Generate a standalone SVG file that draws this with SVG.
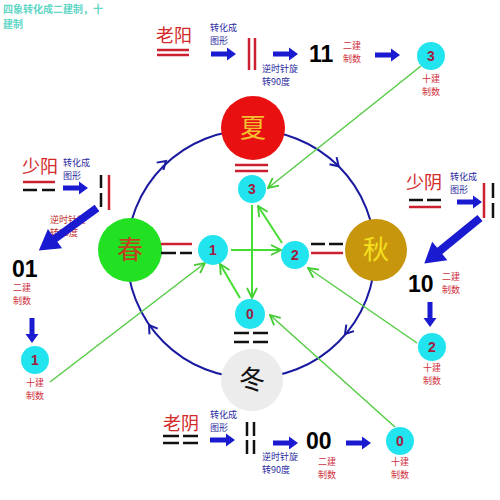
<svg xmlns="http://www.w3.org/2000/svg" width="500" height="500" viewBox="0 0 500 500">
<defs>
<style>
.cjk{font-family:"Noto Sans CJK SC",sans-serif}
.ttl{font-size:10px;fill:#5fd6c6;font-weight:bold}
.big{font-size:18px;fill:#d42a2a}
.sb{font-size:9px;fill:#2a2aa0}
.sr{font-size:9px;fill:#d03040}
.num{font-family:"Liberation Sans",Arial,sans-serif;font-size:23px;font-weight:bold;fill:#000}
.cn{font-family:"Liberation Sans",Arial,sans-serif;font-size:14px;font-weight:bold;fill:#a02040;text-anchor:middle}
.cy{fill:#22e4ee}
.rl{stroke:#cc2030;stroke-width:2.5;fill:none}
.bl{stroke:#111;stroke-width:2.5;fill:none}
.ba{fill:#1a1ad0}
.g1{stroke:#55cc44;stroke-width:1.5;fill:none;marker-end:url(#gh)}
.g2{stroke:#44dd33;stroke-width:2;fill:none;marker-end:url(#gh)}
.season{font-family:"Noto Sans CJK SC",sans-serif;font-size:26px;text-anchor:middle}
</style>
<marker id="gh" viewBox="0 0 12 12" refX="11" refY="6" markerWidth="12" markerHeight="12" markerUnits="userSpaceOnUse" orient="auto">
<polyline points="1,1 11,6 1,11" fill="none" stroke="#44cc33" stroke-width="1.8"/>
</marker>
<path id="sa" d="M0,-2.5 L16,-2.5 L16,-6.5 L25,0 L16,6.5 L16,2.5 L0,2.5 Z"/>
<path id="la" d="M0,-4 L52,-4 L52,-12 L72,0 L52,12 L52,4 L0,4 Z"/>
<polyline id="ch" points="-8,-5 0,0 -8,5" fill="none" stroke="#1a1aa0" stroke-width="2"/>
</defs>
<rect width="500" height="500" fill="#fff"/>

<g id="title" class="cjk ttl">
<text x="3" y="13">四象转化成二建制，十<tspan x="3" dy="14.8">建制</tspan></text>
</g>

<g id="cycle">
<circle cx="251" cy="254" r="124" fill="none" stroke="#1a1aa0" stroke-width="2"/>
<use href="#ch" transform="translate(166,161) rotate(-42)"/>
<use href="#ch" transform="translate(338.7,166.3) rotate(45)"/>
<use href="#ch" transform="translate(345,334) rotate(130)"/>
<use href="#ch" transform="translate(149,325) rotate(-125)"/>
</g>

<g id="connectors">
<line class="g2" x1="252" y1="205" x2="252" y2="298"/>
<line class="g2" x1="282" y1="243" x2="258" y2="206"/>
<line class="g2" x1="240" y1="298" x2="220" y2="264"/>
<line class="g2" x1="231" y1="250" x2="281" y2="250"/>
<line class="g1" x1="421" y1="66" x2="268" y2="188"/>
<line class="g1" x1="50" y1="382" x2="205" y2="263"/>
<line class="g1" x1="417" y1="343" x2="308" y2="268"/>
<line class="g1" x1="395" y1="427" x2="270" y2="315"/>
</g>

<g id="summer">
<circle cx="253" cy="128" r="32" fill="#e81010"/>
<text class="season" x="253" y="137" fill="#f2c030">夏</text>
<line class="rl" x1="235" y1="165" x2="268" y2="165"/>
<line class="rl" x1="235" y1="171" x2="268" y2="171"/>
</g>
<g id="spring">
<circle cx="130" cy="250" r="32" fill="#22e022"/>
<text class="season" x="130" y="259" fill="#c04020">春</text>
<line class="rl" x1="161" y1="244" x2="192" y2="244"/>
<path class="bl" d="M161,253 H176 M180,253 H192"/>
</g>
<g id="autumn">
<circle cx="376" cy="250" r="31" fill="#c8960c"/>
<text class="season" x="376" y="259" fill="#f4e020">秋</text>
<path class="bl" d="M311,244 H325 M329,244 H343"/>
<line class="rl" x1="311" y1="253" x2="343" y2="253"/>
</g>
<g id="winter">
<circle cx="252" cy="380" r="31" fill="#ececec"/>
<text class="season" x="252" y="389" fill="#111">冬</text>
<path class="bl" d="M234,333 H249 M253,333 H268 M234,342 H249 M253,342 H268"/>
</g>

<g id="n3">
<circle class="cy" cx="252" cy="189" r="14"/>
<text class="cn" x="252" y="194">3</text>
</g>
<g id="n1">
<circle class="cy" cx="213" cy="250" r="15"/>
<text class="cn" x="213" y="255">1</text>
</g>
<g id="n2">
<circle class="cy" cx="295" cy="255" r="14"/>
<text class="cn" x="295" y="260">2</text>
</g>
<g id="n0">
<circle class="cy" cx="250" cy="314" r="15"/>
<text class="cn" x="250" y="319">0</text>
</g>

<g id="laoyang">
<text class="cjk big" x="156" y="42">老阳</text>
<line class="rl" x1="157" y1="50" x2="189" y2="50"/>
<line class="rl" x1="157" y1="55" x2="189" y2="55"/>
<text class="cjk sb" x="210" y="31">转化成<tspan x="210" dy="13.2">图形</tspan></text>
<use href="#sa" class="ba" transform="translate(211,54)"/>
<line class="rl" x1="249" y1="38" x2="249" y2="70"/>
<line class="rl" x1="255" y1="38" x2="255" y2="70"/>
<use href="#sa" class="ba" transform="translate(273,54)"/>
<text class="num" x="309" y="62">11</text>
<text class="cjk sb" x="262" y="72">逆时针旋<tspan x="262" dy="13.2">转90度</tspan></text>
<text class="cjk sr" x="343" y="49">二建<tspan x="343" dy="13.2">制数</tspan></text>
<use href="#sa" class="ba" transform="translate(375,55)"/>
<circle class="cy" cx="431" cy="56" r="14"/>
<text class="cn" x="431" y="61">3</text>
<text class="cjk sr" x="431" y="82" text-anchor="middle">十建<tspan x="431" dy="13.2">制数</tspan></text>
</g>

<g id="shaoyang">
<text class="cjk big" x="22" y="173">少阳</text>
<line class="rl" x1="23" y1="182" x2="55" y2="182"/>
<path class="bl" d="M23,190 H37 M42,190 H55"/>
<text class="cjk sb" x="63" y="166">转化成<tspan x="63" dy="13.2">图形</tspan></text>
<use href="#sa" class="ba" transform="translate(63,188)"/>
<path class="bl" d="M101,175 V188 M101,193 V207"/>
<line class="rl" x1="109" y1="175" x2="109" y2="210"/>
<text class="cjk sr" x="50" y="223" style="fill:#c03030">逆时针旋<tspan x="50" dy="13.2">转90度</tspan></text>
<use href="#la" class="ba" transform="translate(97,208) rotate(143.9)"/>
<text class="num" x="12" y="277">01</text>
<text class="cjk sr" x="13" y="291">二建<tspan x="13" dy="13.2">制数</tspan></text>
<use href="#sa" class="ba" transform="translate(32,318) rotate(90)"/>
<circle class="cy" cx="35" cy="360" r="14"/>
<text class="cn" x="35" y="365">1</text>
<text class="cjk sr" x="35" y="386" text-anchor="middle">十建<tspan x="35" dy="13.2">制数</tspan></text>
</g>

<g id="shaoyin">
<text class="cjk big" x="406" y="189">少阴</text>
<path class="bl" d="M409,200 H423 M427,200 H441"/>
<line class="rl" x1="409" y1="207" x2="441" y2="207"/>
<text class="cjk sb" x="450" y="180">转化成<tspan x="450" dy="13.2">图形</tspan></text>
<use href="#sa" class="ba" transform="translate(457,202)"/>
<line class="rl" x1="484" y1="183" x2="484" y2="218"/>
<path class="bl" d="M493,183 V198 M493,203 V218"/>
<use href="#la" class="ba" transform="translate(480,218) rotate(140.7)"/>
<text class="num" x="408" y="292">10</text>
<text class="cjk sr" x="442" y="280">二建<tspan x="442" dy="13.2">制数</tspan></text>
<use href="#sa" class="ba" transform="translate(430,302) rotate(90)"/>
<circle class="cy" cx="432" cy="347" r="14"/>
<text class="cn" x="432" y="352">2</text>
<text class="cjk sr" x="432" y="371" text-anchor="middle">十建<tspan x="432" dy="13.2">制数</tspan></text>
</g>

<g id="laoyin">
<text class="cjk big" x="163" y="430">老阴</text>
<path class="bl" d="M163,436 H179 M183,436 H198 M163,443 H179 M183,443 H198"/>
<text class="cjk sb" x="210" y="418">转化成<tspan x="210" dy="13.2">图形</tspan></text>
<use href="#sa" class="ba" transform="translate(210,440)"/>
<path class="bl" d="M247,422 V436 M247,440 V454 M254,422 V436 M254,440 V454"/>
<use href="#sa" class="ba" transform="translate(273,443)"/>
<text class="num" x="306" y="449">00</text>
<text class="cjk sb" x="262" y="460">逆时针旋<tspan x="262" dy="13.2">转90度</tspan></text>
<text class="cjk sr" x="318" y="465">二建<tspan x="318" dy="13.2">制数</tspan></text>
<use href="#sa" class="ba" transform="translate(346,443)"/>
<circle class="cy" cx="400" cy="441" r="14"/>
<text class="cn" x="400" y="446">0</text>
<text class="cjk sr" x="400" y="465" text-anchor="middle">十建<tspan x="400" dy="13.2">制数</tspan></text>
</g>
</svg>
